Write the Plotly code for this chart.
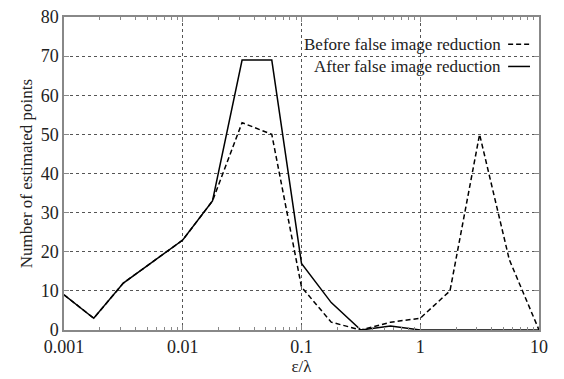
import plotly.graph_objects as go

x_vals = [0.001, 0.00178, 0.00316, 0.00562, 0.01, 0.0178, 0.0316, 0.0562,
          0.1, 0.178, 0.316, 0.562, 1, 1.78, 3.16, 5.62, 10]
before = [9, 3, 12, 17.5, 23, 33, 53, 50, 11, 2, 0, 2, 3, 10, 50, 18, 0]
after = [9, 3, 12, 17.5, 23, 33, 69, 69, 17, 7, 0, 1, 0, 0, 0, 0, 0]
before_name = "Before false image reduction"
after_name = "After false image reduction"
x_tick_vals = [0.001, 0.01, 0.1, 1, 10]
x_tick_text = ["0.001", "0.01", "0.1", "1", "10"]
x_minor_vals = [m * d for d in [0.001, 0.01, 0.1, 1] for m in range(2, 10)]
y_tick_vals = [0, 10, 20, 30, 40, 50, 60, 70, 80]

FONT = "Liberation Serif"
FONT_AX = "Times New Roman"
TXT = "#222"

fig = go.Figure()
fig.add_trace(go.Scatter(x=x_vals, y=before, mode="lines", name=before_name,
                         line=dict(color="black", width=1.5, dash="5px,3px")))
fig.add_trace(go.Scatter(x=x_vals, y=after, mode="lines", name=after_name,
                         line=dict(color="black", width=1.5)))

# legend background box
fig.add_shape(type="rect", xref="paper", yref="paper", x0=0.4505, x1=0.997,
              y0=0.814, y1=0.997, fillcolor="white", line=dict(width=0),
              layer="between")

# legend entries (text followed by line sample)
for name, yp, dash in [(before_name, 0.913, "5px,3px"), (after_name, 0.842, "solid")]:
    fig.add_annotation(xref="paper", yref="paper", x=0.924, y=yp, text=name,
                       showarrow=False, xanchor="right", yanchor="middle",
                       font=dict(family=FONT, size=17, color=TXT))
    fig.add_shape(type="line", xref="paper", yref="paper", x0=0.935, x1=0.981,
                  y0=yp, y1=yp, line=dict(color="black", width=1.5, dash=dash))

axis_common = dict(showline=True, linecolor="#888", linewidth=1.5, mirror="ticks",
                   ticks="inside", tickcolor="#888", ticklen=5,
                   showgrid=True, gridcolor="#555", griddash="dot", gridwidth=1,
                   zeroline=False, ticklabeloverflow="allow",
                   tickfont=dict(family=FONT_AX, size=18, color=TXT))

fig.update_xaxes(type="log", range=[-3, 1], tickmode="array",
                 tickvals=x_tick_vals, ticktext=x_tick_text,
                 minor=dict(tickmode="array", tickvals=x_minor_vals, ticks="inside",
                            ticklen=3, tickcolor="#888", showgrid=False),
                 title=dict(text="ε/λ", font=dict(family=FONT_AX, size=17, color=TXT), standoff=0),
                 **axis_common)
fig.update_yaxes(range=[0, 80], tickvals=y_tick_vals,
                 title=dict(text="Number of estimated points", font=dict(family=FONT_AX, size=17, color=TXT), standoff=4),
                 **axis_common)

fig.update_layout(width=564, height=379, margin=dict(l=64, r=25, t=7, b=49),
                  paper_bgcolor="white", plot_bgcolor="white", showlegend=False,
                  font=dict(family=FONT_AX, size=17, color=TXT))

fig.write_html("out.html")
